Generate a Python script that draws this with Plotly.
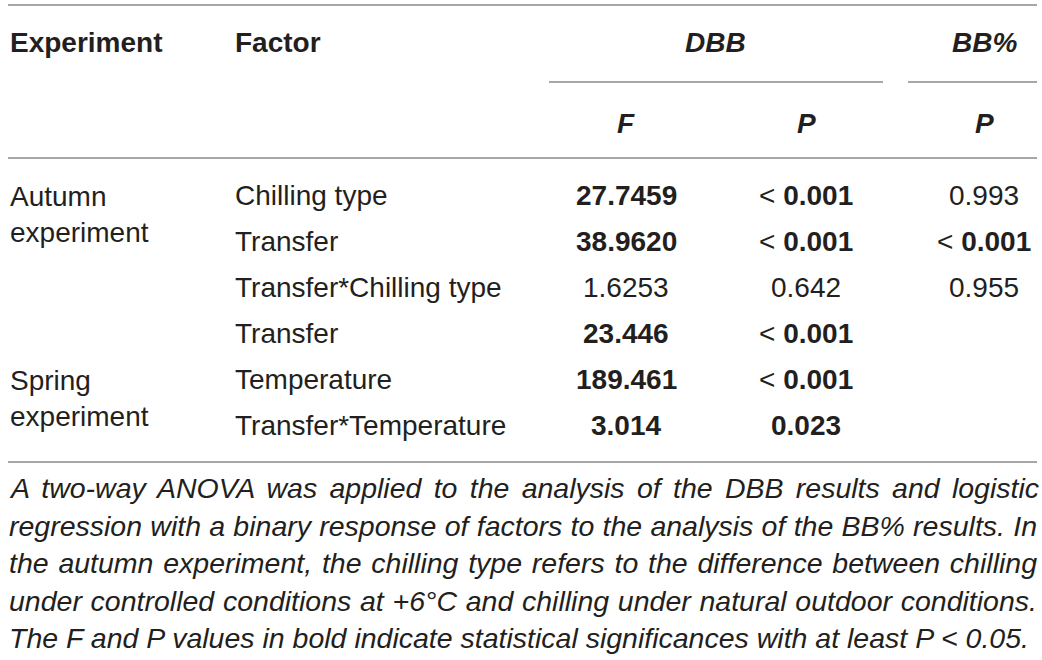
import json
import plotly.graph_objects as go

# table content
experiments = ["Autumn<br>experiment", "Spring<br>experiment"]
experiment_rows = [0, 4]
factors = ["Chilling type", "Transfer", "Transfer*Chilling type",
           "Transfer", "Temperature", "Transfer*Temperature"]
dbb_f = ["27.7459", "38.9620", "1.6253", "23.446", "189.461", "3.014"]
dbb_p = ["< 0.001", "< 0.001", "0.642", "< 0.001", "< 0.001", "0.023"]
bb_p = ["0.993", "< 0.001", "0.955", "", "", ""]
# 1 = significant (printed in bold)
dbb_f_sig = [1, 1, 0, 1, 1, 1]
dbb_p_sig = [1, 1, 0, 1, 1, 1]
bb_p_sig = [0, 1, 0, 0, 0, 0]

footnote = [
    "A two-way ANOVA was applied to the analysis of the DBB results and logistic",
    "regression with a binary response of factors to the analysis of the BB% results. In",
    "the autumn experiment, the chilling type refers to the difference between chilling",
    "under controlled conditions at +6°C and chilling under natural outdoor conditions.",
    "The F and P values in bold indicate statistical significances with at least P < 0.05.",
]

FONT = "Liberation Sans"
TXT = "#231f20"
LINE = "#8a8a8a"
SIZE = 28

# layout helpers (pixel space)
x_exp, x_fac, x_right = 8, 233, 1035
x_f, x_p, x_bb = 626, 806, 984
row0, row_step = 195, 46
foot0, foot_step = 488, 37.5


def row_y(i):
    return row0 + i * row_step


def fmt(val, sig):
    if not val or not sig:
        return val
    if val.startswith("< "):
        return "< <b>" + val[2:] + "</b>"
    return "<b>" + val + "</b>"


fig = go.Figure()
ann = []


def add(x, y, text, anchor="center", size=SIZE, italic=False):
    ann.append(dict(x=x, y=y, xref="x", yref="y", text=text, showarrow=False,
                    xanchor=anchor, yanchor="middle", align="left",
                    font=dict(family=FONT, size=size, color=TXT,
                              style="italic" if italic else "normal")))


# header
add(x_exp, 42, "<b>Experiment</b>", "left")
add(x_fac, 42, "<b>Factor</b>", "left")
add((x_f + x_p) / 2 - 1, 42, "<b>DBB</b>", italic=True)
add(x_bb, 42, "<b>BB%</b>", italic=True)
add(x_f, 123, "<b>F</b>", italic=True)
add(x_p, 123, "<b>P</b>", italic=True)
add(x_bb, 123, "<b>P</b>", italic=True)

# body
for label, r in zip(experiments, experiment_rows):
    add(x_exp, row_y(r) + 19, label, "left")
for i, name in enumerate(factors):
    y = row_y(i)
    add(x_fac, y, name, "left")
    add(x_f, y, fmt(dbb_f[i], dbb_f_sig[i]))
    add(x_p, y, fmt(dbb_p[i], dbb_p_sig[i]))
    if bb_p[i]:
        add(x_bb, y, fmt(bb_p[i], bb_p_sig[i]))

# footnote
for k, line in enumerate(footnote):
    add(x_exp - 1, foot0 + k * foot_step, line, "left", size=28.5, italic=True)

# rules
rules = [(8, 1037, 5), (549, 883, 82), (908, 1037, 82), (8, 1037, 158), (8, 1037, 462)]
shapes = [dict(type="line", xref="x", yref="y", x0=a, x1=b, y0=y, y1=y,
               line=dict(color=LINE, width=1.5)) for a, b, y in rules]

fig.update_layout(
    width=1042, height=660,
    margin=dict(l=0, r=0, t=0, b=0),
    paper_bgcolor="white", plot_bgcolor="white",
    xaxis=dict(range=[0, 1042], visible=False, fixedrange=True),
    yaxis=dict(range=[660, 0], visible=False, fixedrange=True),
    annotations=ann, shapes=shapes, showlegend=False,
)

# no page margin, and justify the footnote lines (all but the last)
post = """
document.body.style.margin = '0';
document.body.style.overflow = 'hidden';
var gd = document.getElementById('{plot_id}');
var lines = %s;
gd.querySelectorAll('text.annotation-text').forEach(function (t) {
  var s = t.textContent;
  if (lines.indexOf(s) >= 0) {
    var gaps = (s.match(/ /g) || []).length;
    var w = t.getComputedTextLength();
    t.style.wordSpacing = ((%d - w) / gaps) + 'px';
  }
});
""" % (json.dumps(footnote[:-1]), x_right - x_exp + 1)

fig.write_html("out.html", config={"displayModeBar": False}, post_script=post)
